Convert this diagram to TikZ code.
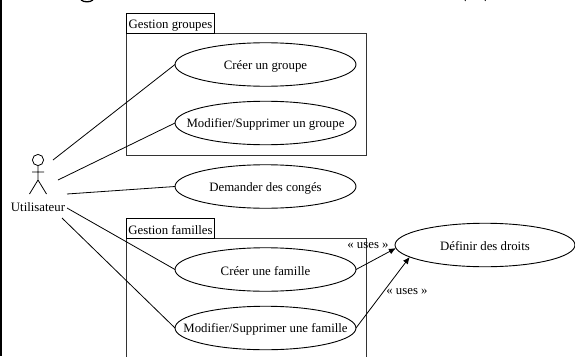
\documentclass[tikz,border=0pt]{standalone}
\usepackage{fontspec}
\setmainfont{Liberation Serif}
\usetikzlibrary{shapes.geometric,arrows.meta}
\tikzset{
  x=1pt,y=-1pt,
  every node/.style={font=\fontsize{12.8pt}{15pt}\selectfont,inner sep=0pt,outer sep=0pt},
  every label/.style={yshift=-1.5pt},
  usecase/.style={draw,ellipse,line width=0.9pt,minimum width=181pt,minimum height=43.5pt},
  pkg/.style={line width=0.9pt,draw=black!80},
  assoc/.style={line width=0.8pt},
  usesarrow/.style={line width=0.8pt,-{Latex[length=7pt,width=6pt]}},
  actorline/.style={line width=0.8pt}
}
\begin{document}
\begin{tikzpicture}
\useasboundingbox (0,0) rectangle (575,356);
\fill[black] (0,0) rectangle (2.4,356);
% packages
\draw[pkg] (126.5,33) rectangle (366,155);
\draw[line width=0.9pt] (126.5,13.5) rectangle (214.5,33);
\node (tg) at (170.5,25.5) {Gestion groupes};
\draw[pkg] (126.5,356.5) -- (126.5,238) -- (366,238) -- (366,356.5);
\draw[line width=0.9pt] (126.5,218.5) rectangle (214.5,238);
\node (tf) at (170.5,230) {Gestion familles};
% use cases
\node[usecase,label={center:Créer un groupe}] (u1) at (265.5,64.5) {};
\node[usecase,label={center:Modifier/Supprimer un groupe}] (u2) at (265.5,123) {};
\node[usecase,label={center:Demander des congés}] (u3) at (265.5,186.5) {};
\node[usecase,label={center:Créer une famille}] (u4) at (265.5,269.5) {};
\node[usecase,label={center:Modifier/Supprimer une famille}] (u5) at (265.5,328) {};
\node[usecase,minimum width=180pt,label={center:Définir des droits}] (d) at (485,245) {};
% actor
\draw[actorline] (38,160) circle (5.6);
\draw[actorline] (38,165.6) -- (38,180) (32,172) -- (44,172) (29.5,194) -- (38,180) -- (46.5,194);
\node (actor) at (38,207) {Utilisateur};
\coordinate (a1) at (53,160);
\coordinate (a2) at (58,180);
\coordinate (a3) at (67,194);
\coordinate (a4) at (67,208);
\coordinate (a5) at (62,218);
\draw[assoc] (a1) -- (u1.west);
\draw[assoc] (a2) -- (u2.west);
\draw[assoc] (a3) -- (u3.west);
\draw[assoc] (a4) -- (u4.west);
\draw[assoc] (a5) -- (u5.west);
\draw[usesarrow] (u4.east) -- (d.182);
\draw[usesarrow] (u5.east) -- (d.189.5);
\node (l1) at (368,246) {« uses »};
\node (l2) at (407,292) {« uses »};
% cropped title remnants
\draw[line width=1.3pt] (81,0) .. controls (84,2.4) and (90,2.4) .. (93,0);
\draw[line width=0.7pt] (465,0) -- (465.5,1);
\draw[line width=0.7pt] (485,1) -- (485.5,0);
\end{tikzpicture}
\end{document}
